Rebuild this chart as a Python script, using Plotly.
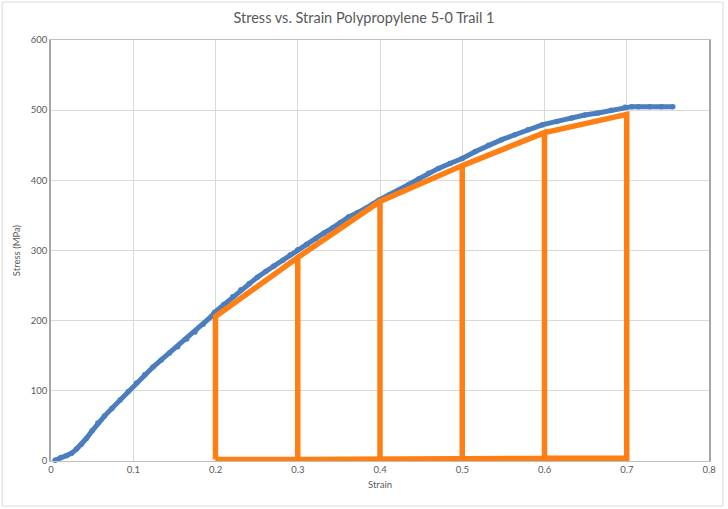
import plotly.graph_objects as go

strain = [0.005, 0.012, 0.019, 0.025, 0.031, 0.037, 0.043, 0.050, 0.057, 0.065, 0.074,
          0.084, 0.094, 0.104, 0.114, 0.124, 0.134, 0.144, 0.154, 0.165, 0.175, 0.185,
          0.195, 0.199, 0.210, 0.221, 0.231, 0.241, 0.251, 0.261, 0.271, 0.282, 0.291,
          0.300, 0.311, 0.322, 0.332, 0.342, 0.352, 0.362, 0.373, 0.383, 0.391, 0.399,
          0.411, 0.423, 0.435, 0.447, 0.459, 0.471, 0.485, 0.500, 0.516, 0.532, 0.548,
          0.564, 0.580, 0.597, 0.615, 0.633, 0.649, 0.665, 0.681, 0.698, 0.706, 0.714,
          0.728, 0.742, 0.756]
stress = [1, 5, 7.5, 11, 17, 24, 32, 43, 54, 64, 75,
          87, 99, 111, 123, 134, 144, 154, 163, 174, 184, 195,
          206, 212, 223, 234, 244, 253, 262, 270, 278, 286, 294,
          301, 309, 317, 325, 332, 340, 348, 354, 360, 366, 372,
          379, 386, 394, 402, 410, 417, 424, 431, 441, 450, 458,
          465, 472, 479, 484, 489, 493, 496, 500, 504, 505, 505,
          505, 505, 505]

# Orange series: trapezoid construction
trap_x = [0.2, 0.2, 0.3, 0.3, 0.3, 0.4, 0.4, 0.4, 0.5, 0.5, 0.5, 0.6, 0.6, 0.6, 0.7, 0.7,
          0.6, 0.5, 0.4, 0.3, 0.2]
trap_y = [2, 206, 290, 2, 290, 370, 2, 370, 421, 3, 421, 468, 4, 468, 494, 4,
          4, 3, 2, 2, 2]

x_ticks = [0, 0.1, 0.2, 0.3, 0.4, 0.5, 0.6, 0.7, 0.8]
y_ticks = [0, 100, 200, 300, 400, 500, 600]

FONT = "Lato, 'Open Sans', sans-serif"
GRAY = "#595959"

fig = go.Figure()
fig.add_trace(go.Scatter(
    x=strain, y=stress, mode="lines+markers",
    line=dict(color="#4a7ebf", width=5),
    marker=dict(color="#4a7ebf", size=5.5, symbol="circle"),
    showlegend=False, cliponaxis=False))
fig.add_trace(go.Scatter(
    x=trap_x, y=trap_y, mode="lines",
    line=dict(color="#ff7f14", width=5.5),
    showlegend=False))

W, H = 728, 509
L, R, T, B = 51, 17, 40, 48
pw, ph = W - L - R, H - T - B

def px_to_paper_x(px):
    return (px - L) / pw

def py_to_paper_y(py):
    return (H - B - py) / ph

fig.update_layout(
    width=W, height=H,
    margin=dict(l=L, r=R, t=T, b=B),
    paper_bgcolor="white", plot_bgcolor="white",
    font=dict(family=FONT, color=GRAY),
    title=dict(text="Stress vs. Strain Polypropylene 5-0 Trail 1",
               x=0.5, xref="container", xanchor="center",
               y=1 - 18 / H, yref="container", yanchor="middle",
               font=dict(size=14.5, color=GRAY, family=FONT)),
    xaxis=dict(range=[0, 0.8], tickvals=x_ticks, ticktext=[str(v) for v in x_ticks],
               showgrid=True, gridcolor="#d9d9d9", gridwidth=1,
               showline=True, linecolor="#bfbfbf", linewidth=1, mirror=True,
               zeroline=False, ticks="", tickfont=dict(size=9.5, color=GRAY),
               title=dict(text="Strain", font=dict(size=9.5, color=GRAY), standoff=6)),
    yaxis=dict(range=[0, 600], tickvals=y_ticks,
               showgrid=True, gridcolor="#d9d9d9", gridwidth=1,
               showline=True, linecolor="#a6a6a6", linewidth=1.5, mirror=True,
               zeroline=False, ticks="", tickfont=dict(size=9.5, color=GRAY),
               title=dict(text="Stress (MPa)", font=dict(size=9.5, color=GRAY), standoff=8)),
    shapes=[dict(type="rect", xref="paper", yref="paper",
                 x0=px_to_paper_x(2), x1=px_to_paper_x(725),
                 y0=py_to_paper_y(506), y1=py_to_paper_y(2),
                 line=dict(color="#d9d9d9", width=1), layer="below")],
)

fig.write_html("out.html",
               config={"displayModeBar": False},
               post_script="document.body.style.margin='0';document.body.style.padding='0';"
                           "document.body.style.overflow='hidden';")
